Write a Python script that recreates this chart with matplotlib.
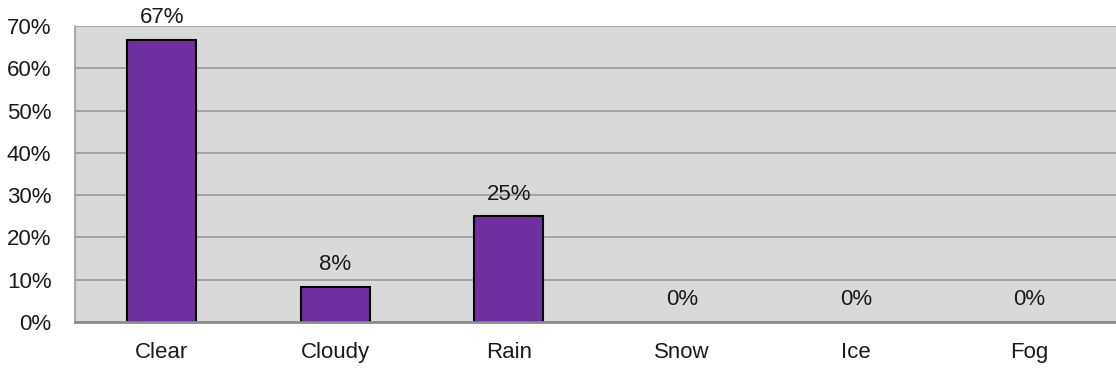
import matplotlib
matplotlib.use("Agg")
import matplotlib.pyplot as plt

categories = ["Clear", "Cloudy", "Rain", "Snow", "Ice", "Fog"]
values = [66.7, 8.3, 25.0, 0.0, 0.0, 0.0]
yticks = [0, 10, 20, 30, 40, 50, 60, 70]

plt.rcParams['font.family'] = ['Liberation Sans Narrow', 'Liberation Sans', 'DejaVu Sans']

FS = 16
fig = plt.figure(figsize=(11.16, 3.72), dpi=100)
ax = fig.add_axes([75/1116, 50/372, 1 - 75/1116, (322-26)/372])
ax.set_facecolor('#D9D9D9')

x = list(range(len(categories)))
lws = [1.5 if v > 0 else 0 for v in values]
ax.bar(x, values, width=0.4, color='#7030A0', edgecolor='black', linewidth=lws, zorder=3)
for xi, v in zip(x, values):
    ax.annotate(f"{v:.0f}%", (xi, v), xytext=(0, 12), textcoords='offset points',
                ha='center', va='baseline', fontsize=FS, color='#1a1a1a', zorder=4)

ax.set_xlim(-0.5, len(categories) - 0.5)
ax.set_ylim(0, 70)
ax.set_yticks(yticks)
ax.set_yticklabels([f"{t}%" for t in yticks])
ax.set_xticks(x)
ax.set_xticklabels(categories)
ax.yaxis.grid(True, color='#969696', linewidth=1.1, zorder=1)
ax.set_axisbelow(True)
ax.tick_params(axis='both', length=0, labelsize=FS, colors='#1a1a1a')
ax.tick_params(axis='x', pad=14.5)
ax.tick_params(axis='y', pad=17)
for s in ['top', 'right']:
    ax.spines[s].set_visible(False)
ax.spines['left'].set_color('#969696')
ax.spines['bottom'].set_color('#8C8C8C')
ax.spines['bottom'].set_linewidth(2.0)
ax.spines['left'].set_linewidth(1.1)
ax.spines['bottom'].set_zorder(5)

fig.savefig("out.png", dpi=100)
